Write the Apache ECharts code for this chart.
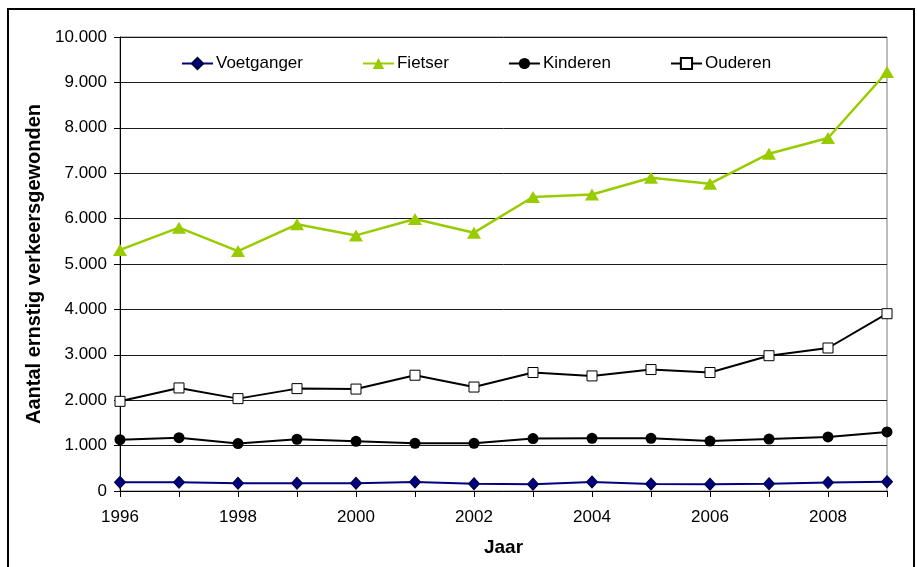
<!DOCTYPE html>
<html>
<head>
<meta charset="utf-8">
<script src="https://cdn.jsdelivr.net/npm/echarts@6/dist/echarts.min.js"></script>
<style>
  html, body { margin: 0; padding: 0; background: #fff; }
  #chart { width: 917px; height: 567px; }
</style>
</head>
<body>
<div id="chart"></div>
<script>
// Ernstig verkeersgewonden per jaar, per groep
const years = ['1996','1997','1998','1999','2000','2001','2002','2003','2004','2005','2006','2007','2008','2009'];
const voetganger = [190, 190, 170, 170, 170, 200, 160, 150, 200, 155, 150, 160, 185, 205];
const fietser    = [5310, 5800, 5285, 5875, 5630, 5990, 5690, 6475, 6530, 6900, 6770, 7430, 7775, 9230];
const kinderen   = [1130, 1175, 1045, 1140, 1095, 1050, 1050, 1155, 1160, 1160, 1100, 1145, 1190, 1300];
const ouderen    = [1975, 2270, 2035, 2255, 2245, 2550, 2290, 2610, 2535, 2675, 2610, 2980, 3150, 3905];

const seriesNames = ['Voetganger', 'Fietser', 'Kinderen', 'Ouderen'];

const FONT = 'Liberation Sans, Arial, sans-serif';

function dutchThousands(v) {
  return String(v).replace(/\B(?=(\d{3})+(?!\d))/g, '.');
}

const chart = echarts.init(document.getElementById('chart'), null, { renderer: 'canvas' });

chart.setOption({
  animation: false,
  backgroundColor: '#fff',
  graphic: [{
    type: 'rect',
    shape: { x: 8, y: 9, width: 906, height: 620 },
    style: { fill: 'none', stroke: '#000', lineWidth: 2 },
    silent: true,
    z: 100
  }],
  grid: {
    left: 120, right: 30, top: 37, bottom: 76,
    show: true, borderColor: '#7a7a7a', borderWidth: 1, backgroundColor: 'transparent'
  },
  legend: {
    left: 176, top: 50,
    itemWidth: 31, itemHeight: 14, itemGap: 59,
    textStyle: { fontFamily: FONT, fontSize: 17, color: '#000', padding: [0, 0, 0, -2] },
    data: seriesNames
  },
  xAxis: {
    type: 'category',
    data: years,
    boundaryGap: false,
    name: 'Jaar',
    nameLocation: 'middle',
    nameGap: 47,
    nameTextStyle: { fontFamily: FONT, fontSize: 19, fontWeight: 'bold', color: '#000' },
    axisLine: { lineStyle: { color: '#000', width: 1 } },
    axisTick: { show: true, interval: 0, length: 6, inside: false, lineStyle: { color: '#000' } },
    axisLabel: { interval: 1, fontFamily: FONT, fontSize: 17, color: '#000', margin: 18 },
    splitLine: { show: false }
  },
  yAxis: {
    type: 'value',
    min: 0, max: 10000, interval: 1000,
    name: 'Aantal ernstig verkeersgewonden',
    nameLocation: 'middle',
    nameGap: 75,
    nameRotate: 90,
    nameTextStyle: { fontFamily: FONT, fontSize: 20, fontWeight: 'bold', color: '#000' },
    axisLine: { show: true, lineStyle: { color: '#000', width: 1 } },
    axisTick: { show: true, length: 6, lineStyle: { color: '#000' } },
    axisLabel: { fontFamily: FONT, fontSize: 17, color: '#000', margin: 13, formatter: dutchThousands },
    splitLine: { show: true, lineStyle: { color: '#1a1a1a', width: 1 } }
  },
  series: [
    {
      name: 'Voetganger', type: 'line', data: voetganger,
      symbol: 'diamond', symbolSize: [11, 12],
      lineStyle: { color: '#000080', width: 2 },
      itemStyle: { color: '#000080', borderColor: '#000033', borderWidth: 1 },
      z: 5
    },
    {
      name: 'Fietser', type: 'line', data: fietser,
      symbol: 'triangle', symbolSize: [14, 12],
      lineStyle: { color: '#99cc00', width: 2.5 },
      itemStyle: { color: '#99cc00', borderWidth: 0 },
      z: 4
    },
    {
      name: 'Kinderen', type: 'line', data: kinderen,
      symbol: 'circle', symbolSize: 11,
      lineStyle: { color: '#000', width: 2 },
      itemStyle: { color: '#000', borderWidth: 0 },
      z: 3
    },
    {
      name: 'Ouderen', type: 'line', data: ouderen,
      symbol: 'rect', symbolSize: 10,
      lineStyle: { color: '#000', width: 2 },
      itemStyle: { color: '#fff', borderColor: '#000', borderWidth: 1 },
      z: 6
    }
  ]
});
</script>
</body>
</html>
